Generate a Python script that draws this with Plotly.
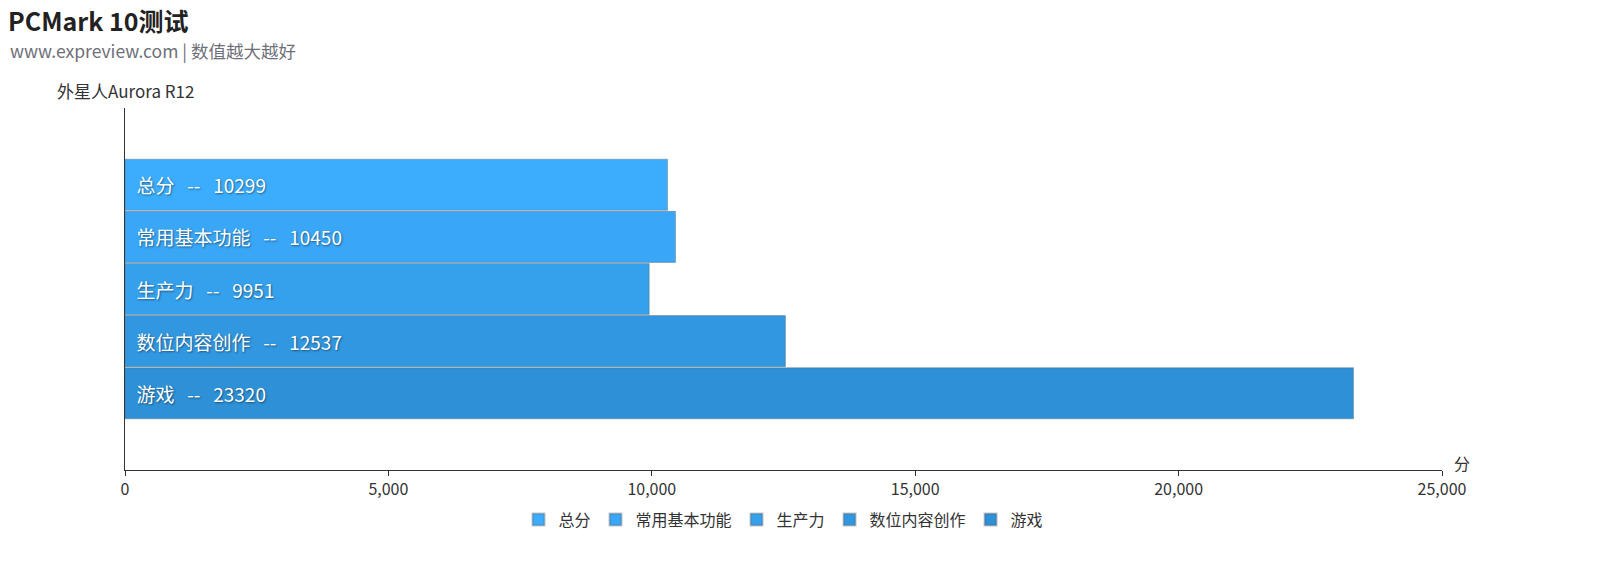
import plotly.graph_objects as go

# PCMark 10 results
machine = "外星人Aurora R12"
items = ["总分", "常用基本功能", "生产力", "数位内容创作", "游戏"]
scores = [10299, 10450, 9951, 12537, 23320]
colors = ["#3cadfd", "#39a6f6", "#35a0ec", "#3197e1", "#2e90d6"]
x_ticks = [0, 5000, 10000, 15000, 20000, 25000]

FONT = "Noto Sans CJK SC, Microsoft YaHei, sans-serif"
SP = "\u00a0\u00a0"
GAP = "\u00a0\u00a0\u00a0"

fig = go.Figure()
for name, val, col in zip(items, scores, colors):
    fig.add_trace(go.Bar(
        y=[machine], x=[val], name=name, orientation="h",
        marker=dict(color=col, line=dict(color="rgba(90,90,90,0.35)", width=1)),
        text=[SP + name + GAP + "--" + GAP + str(val)],
        textposition="inside", insidetextanchor="start",
        textfont=dict(color="white", size=19, family=FONT,
                      shadow="1px 1px 2px rgba(0,0,0,0.45)"),
        hovertemplate=name + ": %{x}<extra></extra>",
    ))

fig.update_layout(
    width=1620, height=580,
    paper_bgcolor="white", plot_bgcolor="white",
    margin=dict(l=125, r=178, t=108, b=110),
    font=dict(family=FONT, color="#333", size=16),
    barmode="group", bargap=0.28, bargroupgap=0.02,
    showlegend=True,
    legend=dict(orientation="h", x=0.5, xanchor="center", y=-0.09, yanchor="top",
                font=dict(size=16, color="#333"), itemwidth=30,
                itemsizing="constant", tracegroupgap=0),
    title=dict(
        text="<b>PCMark 10测试</b>",
        x=0.005, xanchor="left", y=0.962, yanchor="middle",
        font=dict(size=25, color="#222", family=FONT),
    ),
)

fig.update_xaxes(
    range=[0, 25000], tickvals=x_ticks, tickformat=",",
    showgrid=False, zeroline=False,
    showline=True, linecolor="#333", linewidth=1,
    ticks="outside", ticklen=5, tickcolor="#333",
    tickfont=dict(size=16, color="#333"),
)
fig.update_yaxes(
    autorange="reversed", showticklabels=False, showgrid=False,
    showline=True, linecolor="#333", linewidth=1, ticks="",
)

fig.add_annotation(text="www.expreview.com | 数值越大越好", xref="paper", yref="paper",
                   x=-117 / 1317, y=1 + 58 / 362, xanchor="left", yanchor="middle",
                   showarrow=False, font=dict(size=17.5, color="#6e7079"))
fig.add_annotation(text=machine, xref="paper", yref="paper",
                   x=0, y=1 + 18 / 362, xanchor="center", yanchor="middle",
                   showarrow=False, font=dict(size=17, color="#333"))
fig.add_annotation(text="分", xref="paper", yref="paper",
                   x=1 + 10 / 1317, y=-7 / 362, xanchor="left", yanchor="bottom",
                   showarrow=False, font=dict(size=16, color="#333"))

fig.write_html("out.html", config={"displayModeBar": False},
               post_script="document.body.style.margin='0';")
